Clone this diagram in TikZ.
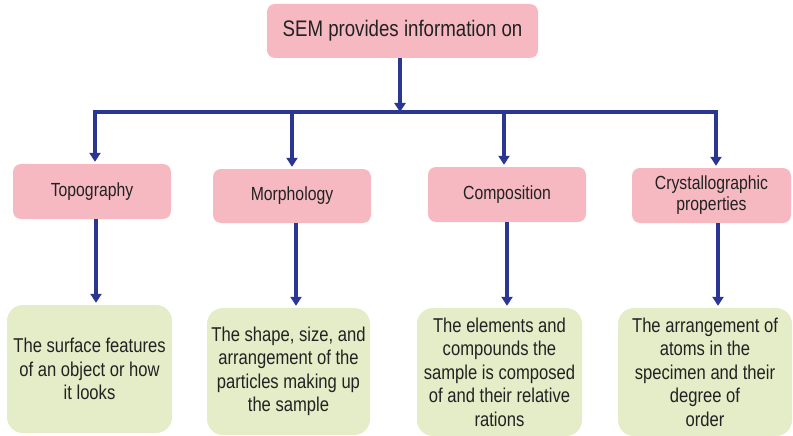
\documentclass[tikz,border=0pt]{standalone}
\usepackage{fontspec}
\setmainfont{Liberation Sans}[FakeStretch=0.83]
\usetikzlibrary{arrows.meta}
\definecolor{boxpink}{HTML}{F6B9C1}
\definecolor{boxgreen}{HTML}{E4EDC7}
\definecolor{linkblue}{HTML}{2B3592}
\definecolor{inktext}{HTML}{222222}
\tikzset{
  x=1pt, y=-1pt,
  topic/.style={fill=boxpink, rounded corners=8pt, inner sep=0pt, align=center,
    text=inktext, font=\fontsize{19}{21}\selectfont},
  detail/.style={fill=boxgreen, rounded corners=16pt, inner sep=0pt, align=center,
    text=inktext, font=\fontsize{20}{23.5}\selectfont},
  link/.style={draw=linkblue, line width=3.3pt},
  arrowlink/.style={link, -{Triangle[length=9pt,width=11pt]}, shorten >=2pt},
}
\begin{document}
\begin{tikzpicture}
\useasboundingbox (0,0) rectangle (793,436);

% root
\node[topic, minimum width=271pt, minimum height=54pt,
  font=\fontsize{22.5}{24}\selectfont] (root) at (402.5,31) {SEM provides information on};

% second level
\node[topic, minimum width=158pt, minimum height=55pt] (t1) at (92,191.5) {Topography};
\node[topic, minimum width=158pt, minimum height=54pt] (t2) at (292,196) {Morphology};
\node[topic, minimum width=158pt, minimum height=55pt] (t3) at (507,194.5) {Composition};
\node[topic, minimum width=159pt, minimum height=55pt] (t4) at (711.5,195.5) {Crystallographic\\properties};

% descriptions
\node[detail, minimum width=165pt, minimum height=128pt] (g1) at (89.5,369)
  {The surface features\\of an object or how\\it looks};
\node[detail, minimum width=163pt, minimum height=127pt] (g2) at (288.5,371.5)
  {The shape, size, and\\arrangement of the\\particles making up\\the sample};
\node[detail, minimum width=165pt, minimum height=128pt] (g3) at (499.5,372)
  {The elements and\\compounds the\\sample is composed\\of and their relative\\rations};
\node[detail, minimum width=174pt, minimum height=128pt] (g4) at (705,372)
  {The arrangement of\\atoms in the\\specimen and their\\degree of\\order};

% branching bar
\coordinate (bar) at (400,112);
\coordinate (b1) at (95,112);
\coordinate (b2) at (292,112);
\coordinate (b3) at (504,112);
\coordinate (b4) at (716,112);

\draw[arrowlink, shorten >=0pt] (root.south -| bar) -- (bar);
\draw[link, line cap=rect] (b1) -- (b4);
\foreach \i in {1,...,4} {
  \draw[arrowlink] (b\i) -- (b\i |- t\i.north);
}

% topic to description
\coordinate (d1) at (96,0);
\coordinate (d2) at (296,0);
\coordinate (d3) at (507,0);
\coordinate (d4) at (718,0);
\foreach \i in {1,...,4} {
  \draw[arrowlink] (d\i |- t\i.south) -- (d\i |- g\i.north);
}
\end{tikzpicture}
\end{document}
